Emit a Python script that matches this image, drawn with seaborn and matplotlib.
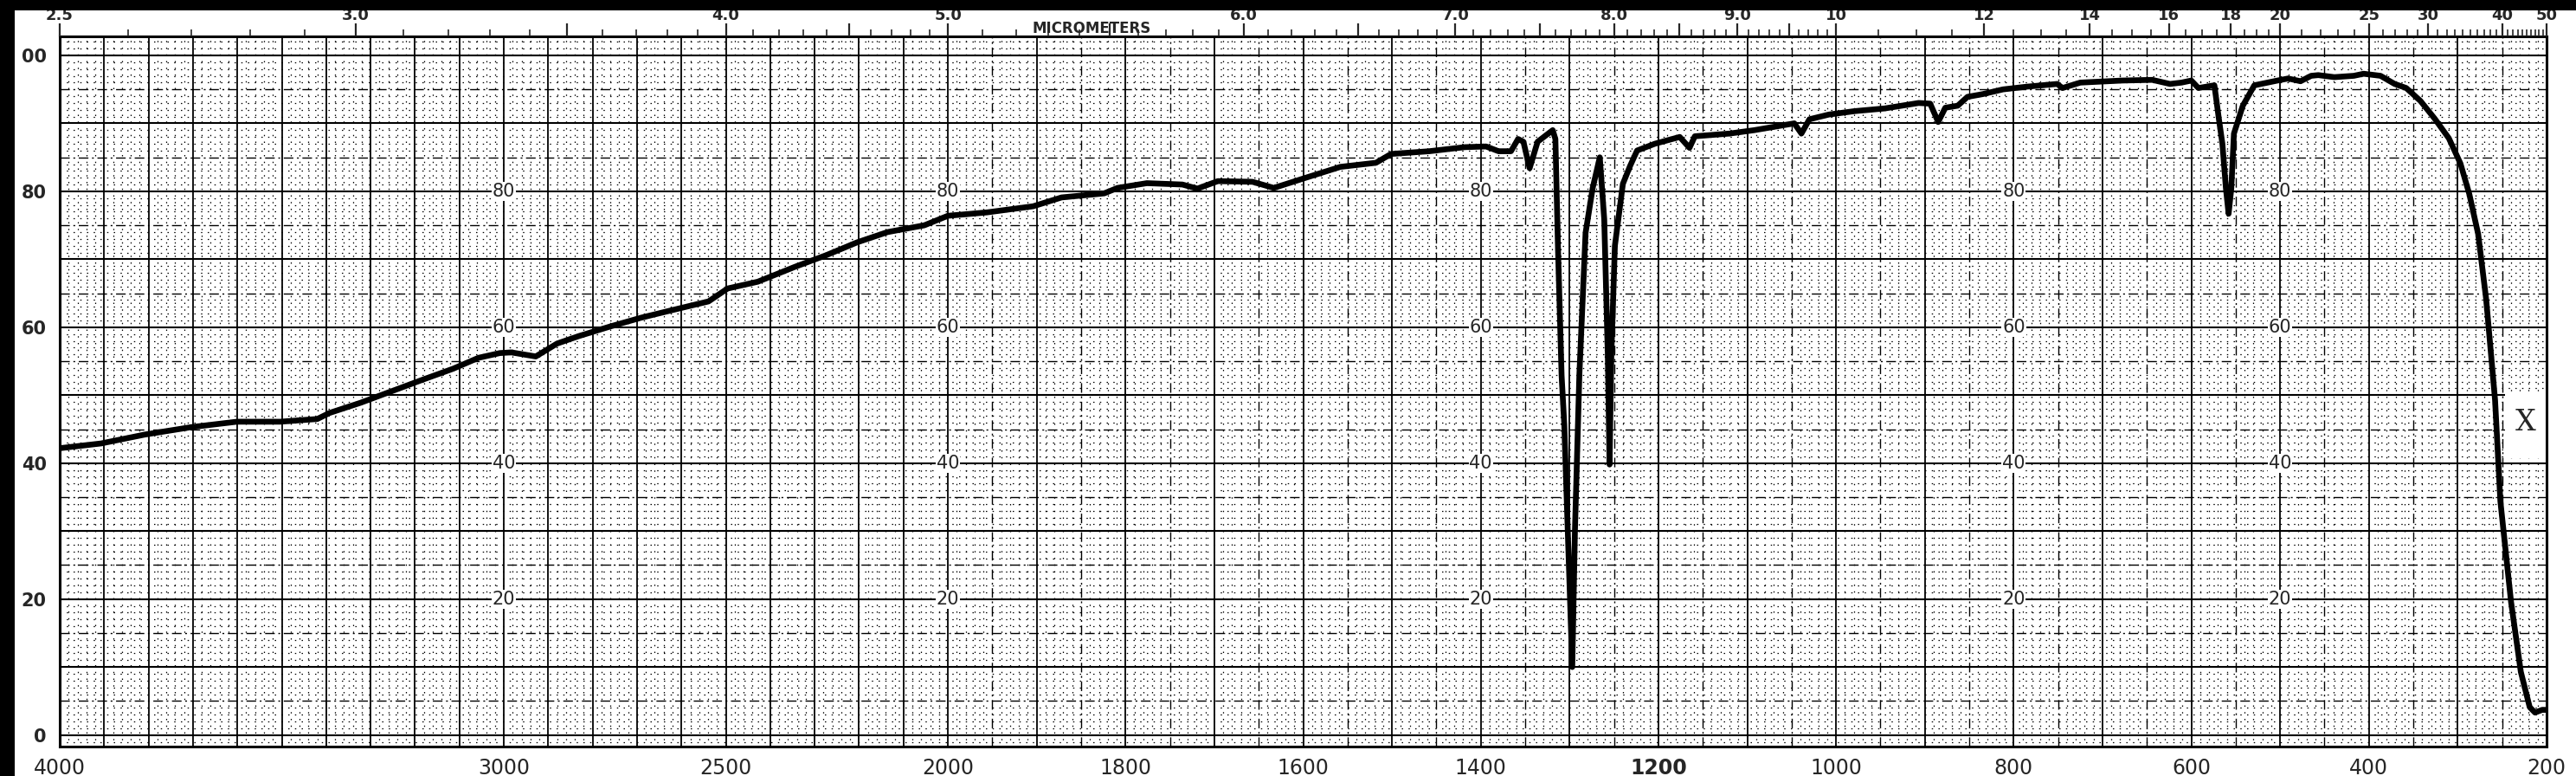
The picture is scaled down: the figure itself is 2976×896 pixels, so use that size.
import numpy as np
import pandas as pd

import matplotlib
matplotlib.use("Agg")
import matplotlib.pyplot as plt
from matplotlib.patches import Rectangle
import seaborn as sns

# spectrum (cm-1, %T)
wavenumber = [4000, 3907, 3809, 3704, 3601, 3503, 3420, 3392, 3322, 3252,
              3182, 3114, 3057, 3009, 2983, 2946, 2928, 2880, 2831, 2761,
              2691, 2622, 2539, 2496, 2428, 2344, 2274, 2204, 2136, 2053,
              2000, 1956, 1904, 1872, 1824, 1809, 1776, 1736, 1719, 1696,
              1657, 1633, 1597, 1558, 1518, 1501, 1458, 1418, 1394, 1380,
              1366, 1358, 1352, 1345, 1336, 1319, 1316, 1313, 1309, 1306,
              1302, 1297, 1294, 1289, 1282, 1274, 1266, 1261, 1257, 1255,
              1253, 1249, 1240, 1232, 1224, 1204, 1176, 1165, 1159, 1120,
              1092, 1047, 1039, 1030, 1008, 979, 945, 907, 894, 885,
              877, 863, 852, 835, 812, 785, 751, 745, 725, 678,
              644, 624, 611, 600, 592, 574, 569, 565, 561, 558,
              555, 552, 542, 529, 503, 491, 477, 465, 457, 439,
              417, 406, 387, 371, 358, 342, 326, 310, 297, 287,
              277, 268, 258, 252, 240, 229, 219, 213, 205, 201]
transmittance = [42.2, 42.9, 44.2, 45.3, 46.1, 46.1, 46.5, 47.4, 48.9, 50.6,
                 52.3, 53.9, 55.5, 56.2, 56.3, 55.9, 55.7, 57.6, 58.7, 60.1,
                 61.4, 62.5, 63.8, 65.7, 66.7, 68.9, 70.6, 72.5, 74.0, 75.0,
                 76.4, 76.9, 77.8, 79.1, 79.7, 80.5, 81.2, 81.0, 80.4, 81.5,
                 81.4, 80.5, 82.0, 83.6, 84.2, 85.5, 85.9, 86.5, 86.6, 85.9,
                 85.9, 87.7, 87.3, 83.4, 87.3, 89.0, 87.7, 71.3, 52.9, 45.7,
                 30.0, 10.0, 30.0, 53.0, 73.9, 80.5, 85.0, 75.9, 56.2, 39.8,
                 56.0, 72.0, 81.1, 83.7, 86.0, 87.0, 88.0, 86.4, 88.1, 88.5,
                 89.0, 90.0, 88.5, 90.6, 91.3, 91.8, 92.2, 93.0, 92.9, 90.2,
                 92.3, 92.6, 93.9, 94.3, 95.0, 95.4, 95.8, 95.2, 96.0, 96.3,
                 96.4, 95.8, 96.0, 96.3, 95.2, 95.6, 90.7, 87.0, 80.4, 76.7,
                 80.4, 88.5, 92.6, 95.6, 96.3, 96.6, 96.2, 97.0, 97.1, 96.8,
                 97.0, 97.3, 97.0, 95.8, 95.2, 93.3, 90.7, 87.8, 84.1, 79.6,
                 73.7, 64.1, 49.3, 34.4, 19.6, 9.3, 4.1, 3.3, 3.7, 3.7]

bottom_ticks = [4000, 3000, 2500, 2000, 1800, 1600, 1400, 1200, 1000, 800, 600, 400, 200]
micron_ticks = [2.5, 3.0, 4.0, 5.0, 6.0, 7.0, 8.0, 9.0, 10, 12, 14, 16, 18, 20, 25, 30, 40, 50]
micron_labels = ["2.5", "3.0", "4.0", "5.0", "6.0", "7.0", "8.0", "9.0",
                 "10", "12", "14", "16", "18", "20", "25", "30", "40", "50"]
left_ticks = [0, 20, 40, 60, 80, 100]
left_labels = ["0", "20", "40", "60", "80", "00"]
inner_cols = [3000, 2000, 1400, 800, 500]
inner_vals = [20, 40, 60, 80]

YLO, YHI = -1.7, 102.8
XLEFT, XRIGHT = 4000, 200


def fwd(nu):
    nu = np.asarray(nu, dtype=float)
    return np.where(nu > 2000, 2000 + (nu - 2000) / 2, nu)


def inv(p):
    p = np.asarray(p, dtype=float)
    return np.where(p > 2000, 2000 + (p - 2000) * 2, p)


sns.set_style("white")
plt.rcParams["font.family"] = ["DejaVu Sans"]

df = pd.DataFrame({"wavenumber": wavenumber, "transmittance": transmittance})

fig = plt.figure(figsize=(29.76, 8.96), dpi=100)
ax = fig.add_axes([69 / 2976, 1 - 862 / 896, (2942 - 69) / 2976, (862 - 42) / 896])

sns.lineplot(data=df, x="wavenumber", y="transmittance", color="black",
             linewidth=4.8, sort=False, estimator=None, legend=False,
             ax=ax, zorder=5)

ax.set_xscale("function", functions=(fwd, inv))
ax.set_xlim(XLEFT, XRIGHT)
ax.set_ylim(YLO, YHI)

# chart-paper grid
v_solid = np.arange(200, 4001, 100)
v_dash = np.arange(250, 2000, 100)
v_dot = np.concatenate([np.arange(210, 2000, 10), np.arange(2020, 4000, 20)])
v_dot = v_dot[(v_dot % 50) != 0]
h_solid = np.arange(0, 101, 10)
h_dash = np.arange(5, 100, 10)
h_dot = np.arange(-1, 103, 1)
h_dot = h_dot[(h_dot % 5) != 0]

ax.vlines(v_dot, YLO, YHI, colors="black", linewidth=0.9,
          linestyles=(0, (1.2, 5)), zorder=1)
ax.hlines(h_dot, XLEFT, XRIGHT, colors="black", linewidth=0.9,
          linestyles=(0, (1.2, 5)), zorder=1)
ax.vlines(v_dash, YLO, YHI, colors="black", linewidth=1.0,
          linestyles=(0, (8, 3, 1.5, 3)), zorder=1)
ax.hlines(h_dash, XLEFT, XRIGHT, colors="black", linewidth=1.0,
          linestyles=(0, (8, 3, 1.5, 3)), zorder=1)
ax.vlines(v_solid, YLO, YHI, colors="black", linewidth=1.3, zorder=1)
ax.hlines(h_solid, XLEFT, XRIGHT, colors="black", linewidth=1.5, zorder=1)

# clear box for the "X" mark
ax.add_patch(Rectangle((247, 40.8), 200 - 247, 50.6 - 40.8,
                       facecolor="white", edgecolor="none", zorder=2))
ax.text(224, 46.0, "X", fontsize=24, family="DejaVu Serif",
        ha="center", va="center", zorder=3)

# scale numbers printed on the paper
for col in inner_cols:
    for val in inner_vals:
        ax.text(col, val, str(val), fontsize=15, ha="center", va="center",
                zorder=3, bbox=dict(facecolor="white", edgecolor="none", pad=0.6))

for s in ax.spines.values():
    s.set_linewidth(2.2)
    s.set_color("black")

ax.set_xticks(bottom_ticks)
ax.set_xticklabels([str(t) for t in bottom_ticks])
ax.set_xticks([], minor=True)
ax.tick_params(axis="x", length=0, pad=9, labelsize=17)
for lbl in ax.get_xticklabels():
    if lbl.get_text() == "1200":
        lbl.set_fontweight("bold")

ax.set_yticks(left_ticks)
ax.set_yticklabels(left_labels, fontweight="bold")
ax.tick_params(axis="y", length=0, pad=11, labelsize=15)
ax.set_xlabel("")
ax.set_ylabel("")

# micrometer scale along the top
top = ax.twiny()
top.set_xscale("function", functions=(fwd, inv))
top.set_xlim(XLEFT, XRIGHT)
half_um = [m for m in np.arange(2.5, 10.01, 0.5) if m not in micron_ticks]
major_pos = [1e4 / m for m in micron_ticks] + [1e4 / m for m in half_um]
major_lab = micron_labels + [""] * len(half_um)
top.set_xticks(major_pos)
top.set_xticklabels(major_lab, fontweight="bold")
minor_um = np.concatenate([np.arange(2.6, 10.0, 0.1), np.arange(10.5, 20, 0.5),
                           np.arange(21, 50, 1)])
minor_um = [m for m in minor_um
            if not any(abs(m - k) < 1e-6 for k in list(micron_ticks) + half_um)]
top.set_xticks([1e4 / m for m in minor_um], minor=True)
top.tick_params(axis="x", which="major", length=11, width=1.6, pad=0,
                labelsize=13, direction="out")
top.tick_params(axis="x", which="minor", length=6, width=1.2, direction="out")
top.text(1e4 / 5.44, 1.0, "MICROMETERS", transform=top.get_xaxis_transform(),
         fontsize=12, fontweight="bold", ha="center", va="bottom")
for s in top.spines.values():
    s.set_visible(False)

# scanner border
fig.add_artist(Rectangle((0, 1 - 12 / 896), 1, 12 / 896, transform=fig.transFigure,
                         facecolor="black", edgecolor="none", zorder=20))
fig.add_artist(Rectangle((0, 0), 17 / 2976, 1, transform=fig.transFigure,
                         facecolor="black", edgecolor="none", zorder=20))

fig.savefig("out.png", dpi=100, facecolor="white")
